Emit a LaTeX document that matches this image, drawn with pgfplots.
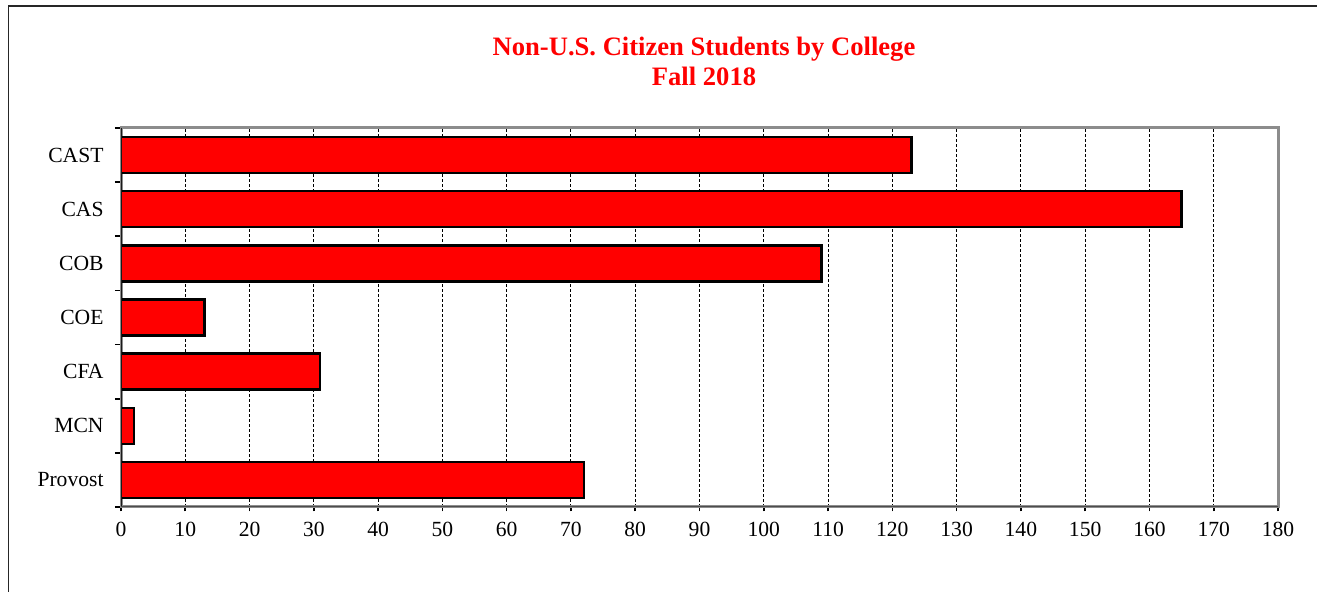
\documentclass[border=0pt]{standalone}
\usepackage{pgfplots}
\pgfplotsset{compat=1.18}
\usepackage{fontspec}
\setmainfont{Liberation Serif}
\begin{document}
\begin{tikzpicture}
\useasboundingbox (0,0) rectangle (658.5pt,296pt);
% outer frame (only top and left visible in the reference)
\draw[line width=0.7pt, black!85] (4.2pt,-2pt) -- (4.2pt,293pt) -- (662pt,293pt);
% title
\node[text=red, font=\bfseries\fontsize{13.3}{15}\selectfont, anchor=base] at (352pt,268pt) {Non-U.S. Citizen Students by College};
\node[text=red, font=\bfseries\fontsize{13.3}{15}\selectfont, anchor=base] at (352pt,253pt) {Fall 2018};
\begin{axis}[
  at={(60.5pt,42.5pt)}, anchor=south west,
  scale only axis,
  width=578.5pt, height=189.5pt,
  xbar, bar width=18pt,
  xmin=0, xmax=180,
  xtick={0,10,...,180},
  ymin=-0.5, ymax=6.5,
  ytick={0,...,6},
  yticklabels={Provost,MCN,CFA,COE,COB,CAS,CAST},
  minor ytick={-0.5,0.5,...,6.5},
  tick align=outside,
  tick pos=left,
  major tick length=2.2pt,
  minor tick length=3pt,
  ytick style={draw=none},
  minor y tick style={draw=black, line width=0.8pt},
  xtick style={black, line width=0.8pt},
  axis line style={black!45, line width=1.5pt},
  xmajorgrids,
  major x grid style={dash pattern=on 1.5pt off 1pt, black, line width=0.5pt},
  tick label style={font=\fontsize{10.8}{12}\selectfont},
  /pgf/number format/assume math mode=true,
  yticklabel style={xshift=-3pt},
  xticklabel style={yshift=-2pt},
]
\addplot[fill=red, draw=black, line width=1.2pt]
  coordinates {(72,0) (2,1) (31,2) (13,3) (109,4) (165,5) (123,6)};
\draw[black!90, line width=1pt] (rel axis cs:0,1) -- (rel axis cs:0,0);
\draw[black!70, line width=1.2pt] (rel axis cs:0,0) -- (rel axis cs:1,0);
\end{axis}
\end{tikzpicture}
\end{document}
